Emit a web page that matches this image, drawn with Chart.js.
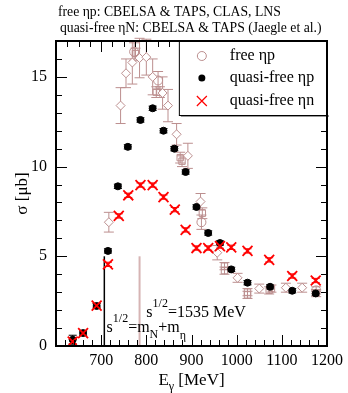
<!DOCTYPE html>
<html>
<head>
<meta charset="utf-8">
<script src="https://cdn.jsdelivr.net/npm/chart.js@4.4.1/dist/chart.umd.min.js"></script>
<style>
  html, body { margin: 0; padding: 0; background: #ffffff; }
  canvas { display: block; }
</style>
</head>
<body>
<canvas id="etaChart" width="348" height="393"></canvas>
<script>
// Date: secțiuni eficace eta (microbarn) vs E_gamma (MeV)
const xTicks = [700, 800, 900, 1000, 1100, 1200];
const yTicks = [0, 5, 10, 15];

// quasi-free eta n (cruci roșii)
const qfnE = [637, 660, 690, 715, 739, 760, 787, 814, 838, 863, 887, 911, 937, 963, 988, 1024, 1072, 1123, 1175];
const qfnS = [0.25, 0.72, 2.25, 4.55, 7.25, 8.4, 8.97, 8.97, 8.3, 7.6, 6.47, 5.46, 5.46, 5.57, 5.5, 5.3, 4.8, 3.9, 3.65];
const qfnErr = [0.12, 0.12, 0.12, 0.12, 0.12, 0.12, 0.12, 0.12, 0.12, 0.12, 0.12, 0.12, 0.12, 0.12, 0.12, 0.12, 0.12, 0.12, 0.12];

// quasi-free eta p (puncte negre)
const qfpE = [637, 660, 690, 715, 737, 759, 787, 814, 838, 862, 887, 911, 937, 963, 988, 1024, 1074, 1123, 1175];
const qfpS = [0.35, 0.72, 2.23, 5.3, 8.9, 11.1, 12.6, 13.25, 12.0, 11.0, 9.7, 7.75, 6.3, 5.74, 4.27, 3.53, 3.3, 3.08, 2.93];
const qfpErr = [0.25, 0.12, 0.12, 0.12, 0.12, 0.12, 0.12, 0.12, 0.12, 0.12, 0.12, 0.12, 0.12, 0.12, 0.12, 0.12, 0.12, 0.12, 0.12];

// free eta p - romburi
const fDiaE = [717, 743, 755, 769, 785, 800, 814, 836, 848, 867, 892, 920, 957, 1002, 1050, 1109, 1145];
const fDiaS = [6.9, 13.4, 15.2, 15.8, 16.05, 16.1, 15.0, 14.1, 13.4, 11.8, 10.6, 8.05, 5.2, 3.8, 3.2, 3.25, 3.25];
const fDiaErr = [0.55, 1.0, 0.8, 1.2, 1.1, 1.0, 1.0, 0.9, 0.9, 0.6, 0.7, 0.45, 0.4, 0.25, 0.25, 0.25, 0.25];

// free eta p - cercuri
const fCirE = [773, 826, 922, 1176];
const fCirS = [16.4, 14.8, 6.9, 3.1];
const fCirErr = [0.5, 0.5, 0.4, 0.2];

// free eta p - pătrate
const fSqE = [776, 822, 830, 875, 879, 924, 973, 973, 1024, 1024, 1072, 1077, 1176];
const fSqS = [16.3, 14.15, 14.15, 10.5, 10.3, 7.4, 4.45, 4.2, 3.0, 2.85, 3.1, 3.2, 2.95];
const fSqErr = [0.3, 0.3, 0.3, 0.3, 0.3, 0.3, 0.2, 0.2, 0.2, 0.2, 0.2, 0.2, 0.2];

// praguri
const thresholdE = 707;   // s^1/2 = mN + m_eta
const resonanceE = 785;   // s^1/2 = 1535 MeV
const lineTop = 5;

const ROSY = '#bc8f8f';
const SERIF = "'Liberation Serif', 'DejaVu Serif', serif";

function toPoints(xs, ys) {
    return xs.map((x, i) => ({ x: x, y: ys[i] }));
}

// text cu indici / exponenți
function drawRich(ctx, x, y, parts) {
    let cx = x;
    parts.forEach(p => {
        ctx.font = p.size + 'px ' + SERIF;
        ctx.fillText(p.t, cx, y + (p.dy || 0));
        cx += ctx.measureText(p.t).width;
    });
}

const framePlugin = {
    id: 'frame',
    beforeDatasetsDraw(chart) {
        const ctx = chart.ctx;
        const xs = chart.scales.x, ys = chart.scales.y;
        ctx.save();
        // liniile verticale de prag
        ctx.lineWidth = 1.5;
        ctx.strokeStyle = '#000';
        ctx.beginPath();
        ctx.moveTo(xs.getPixelForValue(thresholdE), ys.getPixelForValue(0));
        ctx.lineTo(xs.getPixelForValue(thresholdE), ys.getPixelForValue(lineTop));
        ctx.stroke();
        ctx.lineWidth = 2;
        ctx.strokeStyle = '#d6b4b4';
        ctx.beginPath();
        ctx.moveTo(xs.getPixelForValue(resonanceE), ys.getPixelForValue(0));
        ctx.lineTo(xs.getPixelForValue(resonanceE), ys.getPixelForValue(lineTop));
        ctx.stroke();

        // bare de eroare
        chart.data.datasets.forEach(ds => {
            if (!ds.errors) return;
            ctx.strokeStyle = ds.errColor;
            ctx.lineWidth = 1;
            ds.data.forEach((p, i) => {
                const px = xs.getPixelForValue(p.x);
                const y1 = ys.getPixelForValue(p.y - ds.errors[i]);
                const y2 = ys.getPixelForValue(p.y + ds.errors[i]);
                const cap = ds.capWidth;
                ctx.beginPath();
                ctx.moveTo(px, y1); ctx.lineTo(px, y2);
                ctx.moveTo(px - cap, y1); ctx.lineTo(px + cap, y1);
                ctx.moveTo(px - cap, y2); ctx.lineTo(px + cap, y2);
                ctx.stroke();
            });
        });
        ctx.restore();
    },
    afterDraw(chart) {
        const ctx = chart.ctx;
        const a = chart.chartArea;
        const xs = chart.scales.x, ys = chart.scales.y;
        ctx.save();

        // tick-uri interioare pe toate laturile
        ctx.strokeStyle = '#000';
        ctx.lineWidth = 1;
        ctx.beginPath();
        for (let v = 600; v <= 1200; v += 20) {
            const px = Math.round(xs.getPixelForValue(v)) + 0.5;
            const len = v % 100 === 0 ? 11 : 6;
            ctx.moveTo(px, a.bottom); ctx.lineTo(px, a.bottom - len);
        }
        for (let v = 600; v <= 1200; v += 25) {
            const px = Math.round(xs.getPixelForValue(v)) + 0.5;
            const len = v % 100 === 0 ? 11 : 6;
            ctx.moveTo(px, a.top); ctx.lineTo(px, a.top + len);
        }
        for (let v = 0; v <= 17; v += 1) {
            const py = Math.round(ys.getPixelForValue(v)) + 0.5;
            const len = v % 5 === 0 ? 11 : 6;
            ctx.moveTo(a.left, py); ctx.lineTo(a.left + len, py);
            ctx.moveTo(a.right, py); ctx.lineTo(a.right - len, py);
        }
        ctx.stroke();

        // legenda
        const lx = xs.getPixelForValue(872), ly = a.top, lw = a.right - lx, lh = 74;
        ctx.fillStyle = '#fff';
        ctx.fillRect(lx, ly, lw, lh);
        ctx.fillStyle = '#999';
        ctx.fillRect(lx + 2, ly + lh, lw, 2);
        ctx.strokeStyle = '#000';
        ctx.lineWidth = 1;
        ctx.strokeRect(lx + 0.5, ly + 0.5, lw, lh);
        const sx = lx + 23, tx = lx + 51;
        const rows = [ly + 15, ly + 37, ly + 60];
        ctx.strokeStyle = ROSY;
        ctx.beginPath(); ctx.arc(sx, rows[0], 4.5, 0, Math.PI * 2); ctx.stroke();
        ctx.fillStyle = '#000';
        ctx.beginPath(); ctx.arc(sx, rows[1], 3.5, 0, Math.PI * 2); ctx.fill();
        ctx.strokeStyle = '#ff0000';
        ctx.lineWidth = 1.2;
        ctx.beginPath();
        ctx.moveTo(sx - 5, rows[2] - 5); ctx.lineTo(sx + 5, rows[2] + 5);
        ctx.moveTo(sx - 5, rows[2] + 5); ctx.lineTo(sx + 5, rows[2] - 5);
        ctx.stroke();
        ctx.fillStyle = '#000';
        ctx.font = '16px ' + SERIF;
        ctx.textBaseline = 'middle';
        ctx.fillText('free ηp', tx, rows[0]);
        ctx.fillText('quasi-free ηp', tx, rows[1]);
        ctx.fillText('quasi-free ηn', tx, rows[2]);

        // chenarul graficului
        ctx.lineWidth = 2;
        ctx.strokeStyle = '#000';
        ctx.strokeRect(a.left, a.top, a.right - a.left, a.bottom - a.top);

        // titluri
        ctx.textBaseline = 'alphabetic';
        ctx.font = '13.7px ' + SERIF;
        ctx.fillText('free ηp: CBELSA & TAPS, CLAS, LNS', 58, 16);
        ctx.fillText('quasi-free ηN: CBELSA & TAPS (Jaegle et al.)', 60, 32);

        // adnotări
        drawRich(ctx, xs.getPixelForValue(712), ys.getPixelForValue(0.8), [
            { t: 's', size: 16 }, { t: '1/2', size: 12, dy: -10 },
            { t: '=m', size: 16 }, { t: 'N', size: 12, dy: 6 },
            { t: '+m', size: 16 }, { t: 'η', size: 12, dy: 7 }
        ]);
        drawRich(ctx, xs.getPixelForValue(800), ys.getPixelForValue(1.62), [
            { t: 's', size: 16 }, { t: '1/2', size: 12, dy: -10 },
            { t: '=1535 MeV', size: 16 }
        ]);

        // titlurile axelor
        const xt = 'E', xt2 = 'γ', xt3 = ' [MeV]';
        ctx.font = '17px ' + SERIF;
        const w1 = ctx.measureText(xt).width, w3 = ctx.measureText(xt3).width;
        ctx.font = '12px ' + SERIF;
        const w2 = ctx.measureText(xt2).width;
        const cx = (a.left + a.right) / 2 - (w1 + w2 + w3) / 2;
        drawRich(ctx, cx, 385, [
            { t: xt, size: 17 }, { t: xt2, size: 12, dy: 5 }, { t: xt3, size: 17 }
        ]);
        ctx.translate(27, (a.top + a.bottom) / 2);
        ctx.rotate(-Math.PI / 2);
        ctx.textAlign = 'center';
        ctx.font = '17px ' + SERIF;
        ctx.fillText('σ [μb]', 0, 0);
        ctx.restore();
    }
};

const ctx = document.getElementById('etaChart').getContext('2d');
new Chart(ctx, {
    type: 'scatter',
    data: {
        datasets: [
            {
                label: 'quasi-free ηn',
                data: toPoints(qfnE, qfnS),
                errors: qfnErr, errColor: '#ff0000', capWidth: 4,
                pointStyle: 'crossRot', pointRadius: 7,
                borderColor: '#ff0000', borderWidth: 1.8,
                backgroundColor: '#ff0000'
            },
            {
                label: 'quasi-free ηp',
                data: toPoints(qfpE, qfpS),
                errors: qfpErr, errColor: '#000', capWidth: 4,
                pointStyle: 'circle', pointRadius: 3.5,
                borderColor: '#000', borderWidth: 1,
                backgroundColor: '#000'
            },
            {
                label: 'free ηp',
                data: toPoints(fDiaE, fDiaS),
                errors: fDiaErr, errColor: ROSY, capWidth: 5,
                pointStyle: 'rectRot', pointRadius: 4.5,
                borderColor: ROSY, borderWidth: 1,
                backgroundColor: '#fff'
            },
            {
                label: 'free ηp',
                data: toPoints(fCirE, fCirS),
                errors: fCirErr, errColor: ROSY, capWidth: 5,
                pointStyle: 'circle', pointRadius: 4.5,
                borderColor: ROSY, borderWidth: 1,
                backgroundColor: 'rgba(255,255,255,0)'
            },
            {
                label: 'free ηp',
                data: toPoints(fSqE, fSqS),
                errors: fSqErr, errColor: ROSY, capWidth: 5,
                pointStyle: 'rect', pointRadius: 4.5,
                borderColor: ROSY, borderWidth: 1,
                backgroundColor: 'rgba(255,255,255,0)'
            }
        ]
    },
    options: {
        responsive: false,
        animation: false,
        devicePixelRatio: 1,
        layout: { padding: { top: 41, right: 20, left: 0, bottom: 0 } },
        scales: {
            x: {
                type: 'linear',
                min: 600,
                max: 1200,
                afterFit: function(scale) { scale.height = 47; },
                grid: { display: false, drawTicks: false },
                border: { display: false },
                ticks: {
                    stepSize: 100,
                    padding: 5,
                    color: '#000',
                    font: { family: SERIF, size: 16 },
                    maxRotation: 0,
                    callback: function(value) {
                        return xTicks.includes(value) ? String(value) : '';
                    }
                }
            },
            y: {
                min: 0,
                max: 17,
                afterFit: function(scale) { scale.width = 56; },
                grid: { display: false, drawTicks: false },
                border: { display: false },
                ticks: {
                    stepSize: 5,
                    includeBounds: false,
                    padding: 9,
                    color: '#000',
                    font: { family: SERIF, size: 16 },
                    callback: function(value) {
                        return yTicks.includes(value) ? String(value) : '';
                    }
                }
            }
        },
        plugins: {
            legend: { display: false },
            tooltip: { enabled: false }
        }
    },
    plugins: [framePlugin]
});
</script>
</body>
</html>
